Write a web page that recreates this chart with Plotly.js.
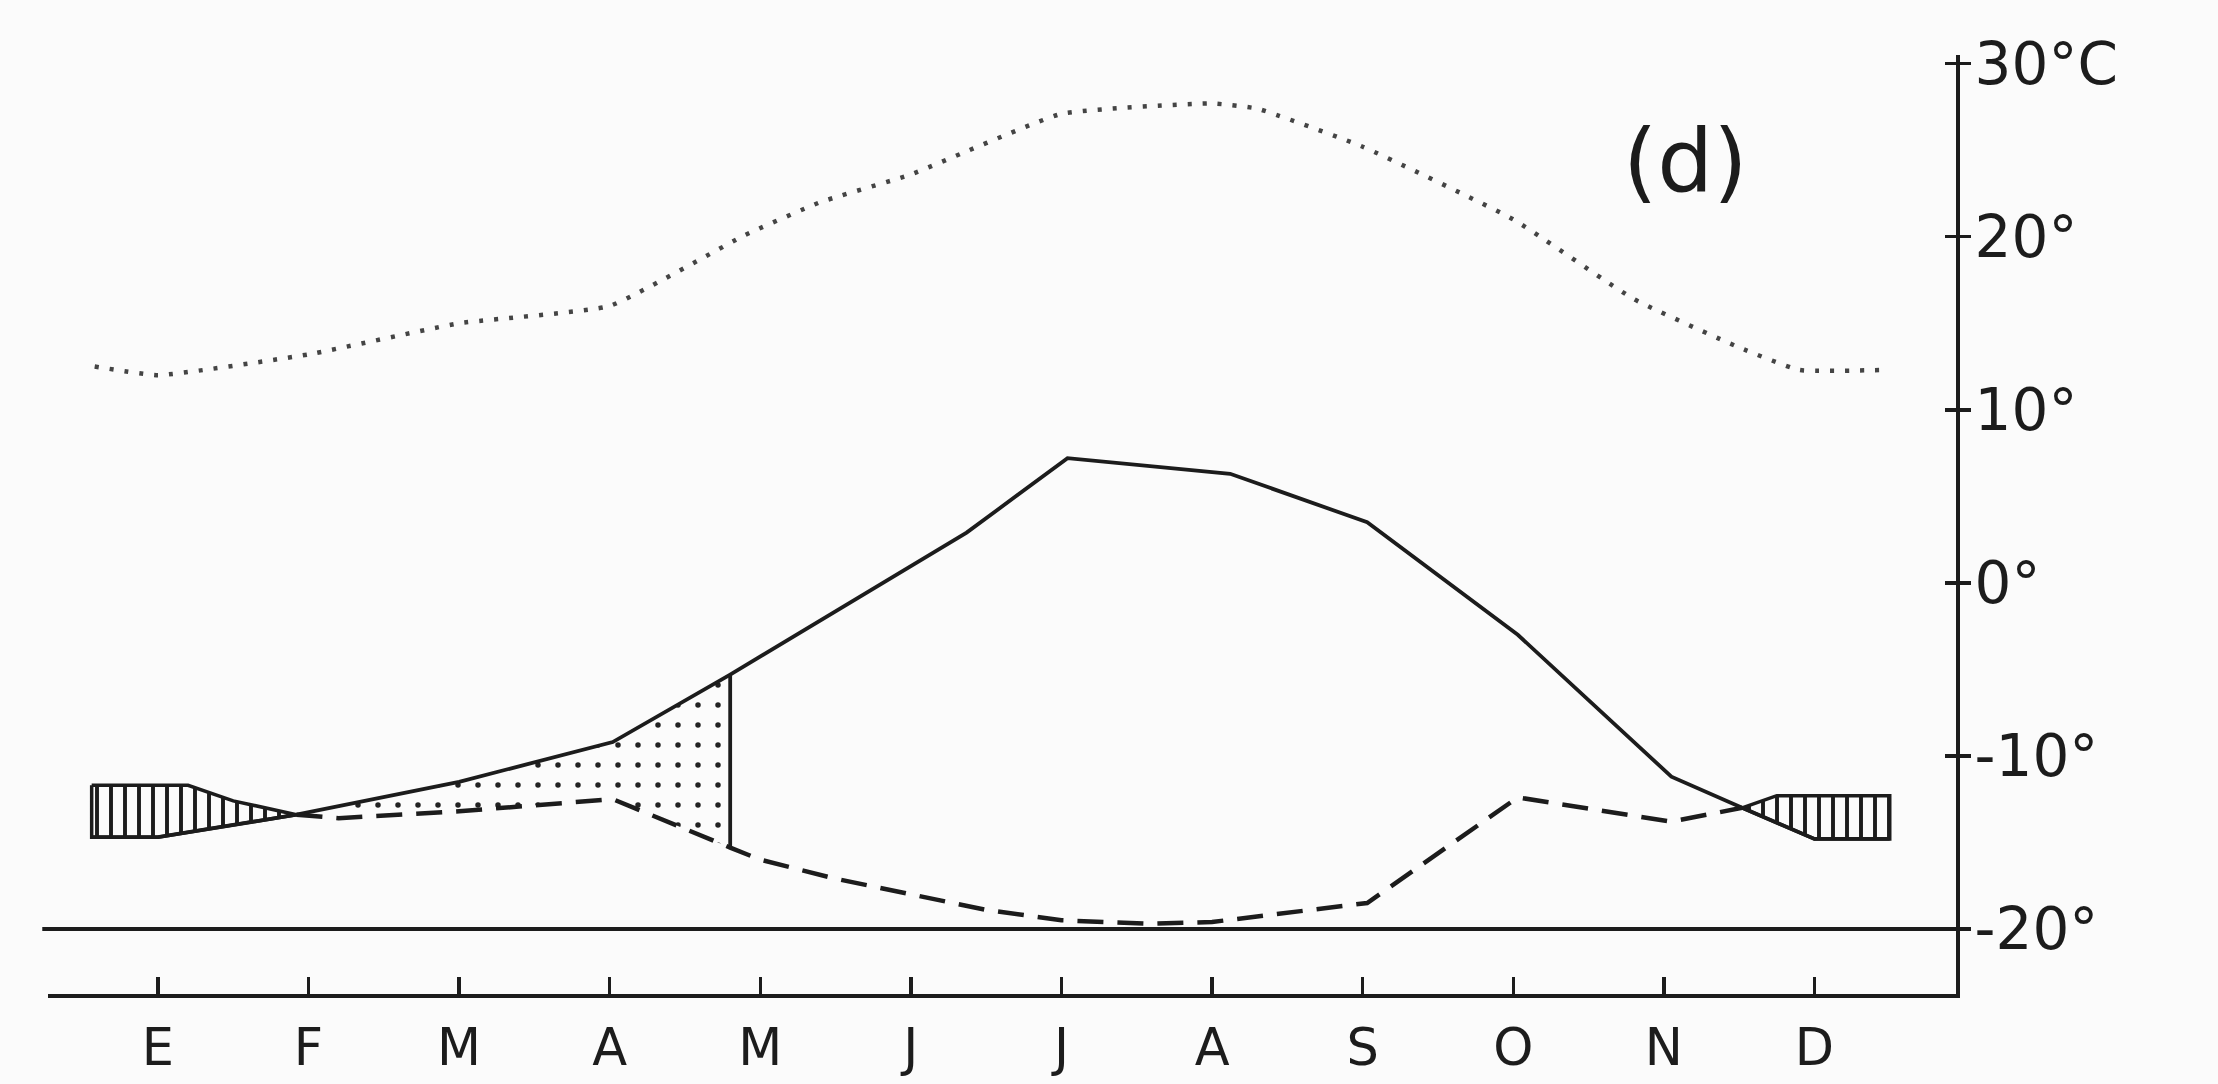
<!DOCTYPE html>
<html>
<head>
<meta charset="utf-8">
<script src="https://cdn.plot.ly/plotly-3.0.1.min.js"></script>
<style>
  html, body { margin: 0; padding: 0; background: #fbfbfb; }
  #chart { width: 2218px; height: 1084px; }
</style>
</head>
<body>
<div id="chart"></div>
<script>
// ---- tick labels (month initials, Spanish) ----
const monthLabels = ['E', 'F', 'M', 'A', 'M', 'J', 'J', 'A', 'S', 'O', 'N', 'D'];
const monthPos = [0, 1, 2, 3, 4, 5, 6, 7, 8, 9, 10, 11];
const tempTicks = [-20, -10, 0, 10, 20, 30];
const tempTickText = ['-20°', '-10°', '0°', '10°', '20°', '30°C'];

// ---- upper dotted curve (°C) ----
const dottedX = [-0.42, 0, 1, 2, 3, 3.9, 4.4, 5, 6, 7, 7.3, 8, 9, 9.8, 10.5, 10.9, 11.45];
const dottedY = [12.5, 12.0, 13.2, 15.0, 16.0, 20.1, 22.0, 23.6, 27.1, 27.7, 27.4, 25.2, 21.0, 16.4, 13.6, 12.3, 12.3];

// ---- solid curve (°C) ----
const solidX = [-0.44, 0, 0.92, 2, 3.02, 3.8, 5.37, 6.04, 7.12, 8.03, 9.03, 10.05, 10.52, 11.0, 11.5];
const solidY = [-14.7, -14.7, -13.4, -11.5, -9.2, -5.3, 2.9, 7.2, 6.3, 3.5, -3.0, -11.2, -13.0, -14.8, -14.8];

// ---- dashed curve (°C) ----
const dashedX = [0.92, 1.2, 2, 3.02, 3.8, 4.0, 4.5, 5.0, 5.5, 6.0, 6.6, 7.0, 8.03, 9.03, 10.05, 10.52];
const dashedY = [-13.4, -13.6, -13.2, -12.5, -15.3, -16.0, -17.1, -18.0, -18.9, -19.5, -19.7, -19.6, -18.5, -12.4, -13.8, -13.0];

// ---- hatched (vertical stripes) regions: upper boundary; lower boundary is the solid curve ----
const hatchLeftX = [-0.44, 0.2, 0.5, 0.92];
const hatchLeftTop = [-11.7, -11.7, -12.6, -13.4];
const hatchRightX = [10.52, 10.75, 11.5];
const hatchRightTop = [-13.0, -12.3, -12.3];

// ---- stippled region: between solid (top) and dashed (bottom) from crossing to end ----
const stippleStart = 0.92;
const stippleEnd = 3.8;

// reference level line
const baseLevel = -20;

// ---------- helpers ----------
function pick(xs, ys, a, b) {
  const px = [], py = [];
  for (let i = 0; i < xs.length; i++) {
    if (xs[i] >= a - 1e-9 && xs[i] <= b + 1e-9) { px.push(xs[i]); py.push(ys[i]); }
  }
  return [px, py];
}
function valueAt(xs, ys, x) {
  for (let i = 0; i < xs.length - 1; i++) {
    if (x >= xs[i] && x <= xs[i + 1]) {
      const t = (x - xs[i]) / (xs[i + 1] - xs[i]);
      return ys[i] + t * (ys[i + 1] - ys[i]);
    }
  }
  return ys[ys.length - 1];
}

// left hatch polygon
const [slx, sly] = pick(solidX, solidY, hatchLeftX[0], hatchLeftX[hatchLeftX.length - 1]);
const hatchLPolyX = hatchLeftX.concat(slx.slice().reverse(), [hatchLeftX[0]]);
const hatchLPolyY = hatchLeftTop.concat(sly.slice().reverse(), [hatchLeftTop[0]]);

// right hatch polygon
const [srx, sry] = pick(solidX, solidY, hatchRightX[0], hatchRightX[hatchRightX.length - 1]);
const hatchRPolyX = hatchRightX.concat(srx.slice().reverse(), [hatchRightX[0]]);
const hatchRPolyY = hatchRightTop.concat(sry.slice().reverse(), [hatchRightTop[0]]);

// stipple polygon
const [ssx, ssy] = pick(solidX, solidY, stippleStart, stippleEnd);
const [sdx, sdy] = pick(dashedX, dashedY, stippleStart, stippleEnd);
const stipPolyX = ssx.concat(sdx.slice().reverse());
const stipPolyY = ssy.concat(sdy.slice().reverse());

const ink = '#1c1c1c';

const traces = [
  {
    x: stipPolyX, y: stipPolyY, type: 'scatter', mode: 'lines',
    fill: 'toself', fillcolor: 'rgba(0,0,0,0)',
    fillpattern: { shape: '.', fgcolor: '#222', bgcolor: 'rgba(0,0,0,0)', size: 20, solidity: 0.06 },
    line: { width: 0, color: 'rgba(0,0,0,0)' }, hoverinfo: 'skip'
  },
  {
    x: hatchLPolyX, y: hatchLPolyY, type: 'scatter', mode: 'lines',
    fill: 'toself', fillcolor: 'rgba(0,0,0,0)',
    fillpattern: { shape: '|', fgcolor: ink, bgcolor: 'rgba(0,0,0,0)', size: 14, solidity: 0.28 },
    line: { width: 3.5, color: ink }, hoverinfo: 'skip'
  },
  {
    x: hatchRPolyX, y: hatchRPolyY, type: 'scatter', mode: 'lines',
    fill: 'toself', fillcolor: 'rgba(0,0,0,0)',
    fillpattern: { shape: '|', fgcolor: ink, bgcolor: 'rgba(0,0,0,0)', size: 14, solidity: 0.28 },
    line: { width: 3.5, color: ink }, hoverinfo: 'skip'
  },
  {
    x: dottedX, y: dottedY, type: 'scatter', mode: 'lines',
    line: { color: '#444', width: 4.5, dash: '4px,11px', shape: 'spline', smoothing: 0.4 },
    hoverinfo: 'skip'
  },
  {
    x: solidX, y: solidY, type: 'scatter', mode: 'lines',
    line: { color: ink, width: 3.8 }, hoverinfo: 'skip'
  },
  {
    x: dashedX, y: dashedY, type: 'scatter', mode: 'lines',
    line: { color: ink, width: 4.5, dash: '26px,14px' }, hoverinfo: 'skip'
  },
  {
    x: [stippleEnd, stippleEnd],
    y: [valueAt(solidX, solidY, stippleEnd), valueAt(dashedX, dashedY, stippleEnd)],
    type: 'scatter', mode: 'lines', line: { color: ink, width: 3.8 }, hoverinfo: 'skip'
  },
  { x: [], y: [], yaxis: 'y2', type: 'scatter', mode: 'lines', hoverinfo: 'skip' }
];

const yRange = [-23.76, 30.5];
const layout = {
  width: 2218, height: 1084,
  margin: { l: 48, r: 262, t: 55, b: 90 },
  paper_bgcolor: '#fbfbfb', plot_bgcolor: '#fbfbfb',
  showlegend: false,
  font: { family: 'DejaVu Sans, sans-serif', color: ink },
  xaxis: {
    range: [-0.73, 11.94], tickvals: monthPos, ticktext: monthLabels,
    showgrid: false, zeroline: false,
    showline: true, linecolor: ink, linewidth: 4,
    ticks: 'inside', ticklen: 17, tickwidth: 3.5, tickcolor: ink,
    tickfont: { size: 51, family: 'DejaVu Sans, sans-serif', color: ink },
    ticklabelstandoff: 6, fixedrange: true
  },
  yaxis: {
    range: yRange, side: 'right', tickvals: tempTicks, ticktext: tempTickText,
    showgrid: false, zeroline: false,
    showline: true, linecolor: ink, linewidth: 4,
    ticks: 'outside', ticklen: 11, tickwidth: 3.5, tickcolor: ink,
    tickfont: { size: 58, family: 'DejaVu Sans, sans-serif', color: ink },
    ticklabelstandoff: -8, fixedrange: true
  },
  yaxis2: {
    range: yRange, overlaying: 'y', side: 'right', tickvals: tempTicks,
    showticklabels: false, showgrid: false, zeroline: false, showline: false,
    ticks: 'inside', ticklen: 11, tickwidth: 3.5, tickcolor: ink, fixedrange: true
  },
  shapes: [
    { type: 'line', xref: 'paper', yref: 'y', x0: -0.003, x1: 1, y0: baseLevel, y1: baseLevel,
      line: { color: ink, width: 4 } }
  ],
  annotations: [
    { text: '(d)', xref: 'paper', yref: 'paper', x: 0.858, y: 0.888,
      xanchor: 'center', yanchor: 'middle', showarrow: false,
      font: { size: 88, family: 'DejaVu Sans, sans-serif', color: ink } }
  ]
};

Plotly.newPlot('chart', traces, layout, { displayModeBar: false, staticPlot: true });
</script>
</body>
</html>
